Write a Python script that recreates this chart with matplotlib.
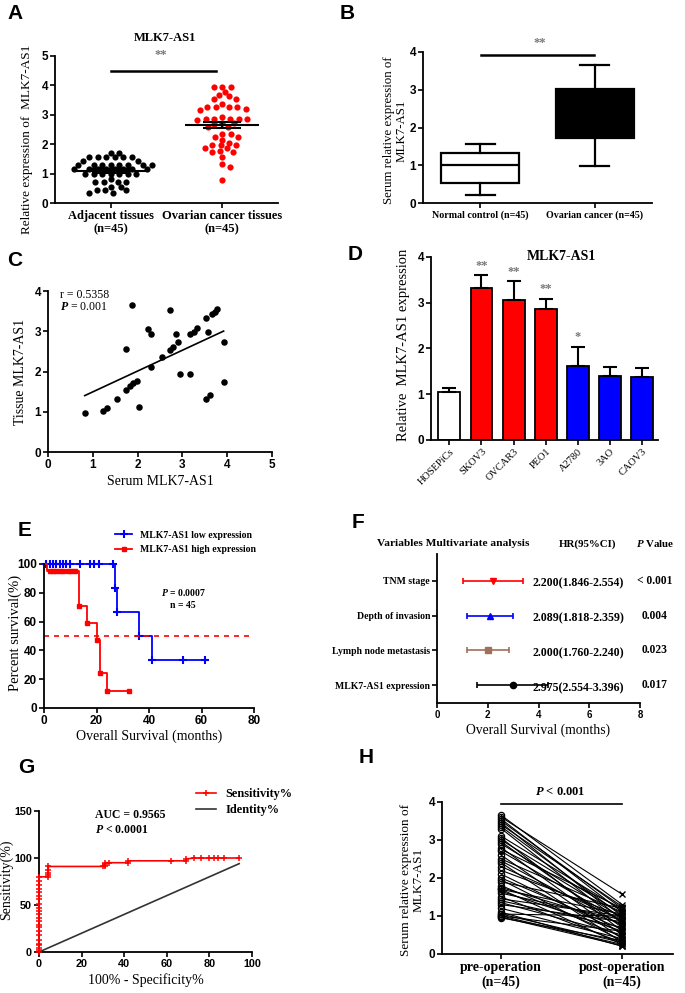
import matplotlib
matplotlib.use("Agg")
import matplotlib.pyplot as plt
from matplotlib.lines import Line2D
import numpy as np

SERIF = "Liberation Serif"
SANS = "Liberation Sans"
plt.rcParams["font.family"] = [SERIF, "DejaVu Serif"]
plt.rcParams["font.weight"] = "bold"
plt.rcParams["mathtext.fontset"] = "custom"
plt.rcParams["mathtext.rm"] = SERIF + ":bold"
plt.rcParams["mathtext.it"] = SERIF + ":italic:bold"
plt.rcParams["mathtext.bf"] = SERIF + ":bold"

# ---------------- data ----------------
# A: tissue expression
tissue_groups = ["Adjacent tissues\n(n=45)", "Ovarian cancer tissues\n(n=45)"]
adjacent_expr = [1.70, 1.70, 1.55, 1.55, 1.55, 1.55, 1.55, 1.55,
                 1.44, 1.44,
                 1.30, 1.30, 1.30, 1.30, 1.30, 1.30, 1.30, 1.30,
                 1.15, 1.15, 1.15, 1.15, 1.15, 1.15, 1.15, 1.15,
                 1.00, 1.00, 1.00, 1.00, 1.00, 1.00, 1.00,
                 0.82, 0.72, 0.72, 0.72, 0.72, 0.56, 0.56, 0.43, 0.43, 0.43, 0.34, 0.34]
ovarian_expr = [3.95, 3.95, 3.95, 3.79, 3.67, 3.53, 3.53, 3.64, 3.36, 3.16,
                3.25, 3.25, 3.20, 3.25, 3.25, 2.93, 2.87, 2.87, 2.87, 2.87,
                2.87, 2.84, 2.72, 2.72, 2.70, 2.60, 2.58, 2.34, 2.26, 2.26,
                2.34, 2.15, 2.04, 1.98, 1.96, 1.87, 1.77, 1.75, 1.75, 1.87,
                1.96, 1.55, 1.32, 1.24, 0.79]

# B: serum box plot summary
serum_groups = ["Normal control (n=45)", "Ovarian cancer (n=45)"]
serum_whislo = [0.20, 0.97]
serum_q1 = [0.52, 1.73]
serum_med = [1.00, 2.40]
serum_q3 = [1.33, 3.03]
serum_whishi = [1.57, 3.65]

# C: correlation
serum_level = [0.82, 1.23, 1.31, 1.53, 1.75, 1.87, 1.75, 1.83, 1.90, 1.98, 2.03,
               2.24, 2.31, 2.31, 2.54, 2.72, 2.86, 2.72, 2.80, 2.91, 2.95, 3.16,
               3.17, 3.25, 3.32, 3.52, 3.58, 3.66, 3.73, 3.77, 3.52, 3.62, 3.92, 3.92]
tissue_level = [0.97, 1.02, 1.09, 1.32, 2.55, 3.65, 1.55, 1.63, 1.71, 1.77, 1.13,
                3.06, 2.93, 2.12, 2.35, 3.52, 2.94, 2.54, 2.62, 2.73, 1.93, 1.93,
                2.93, 2.99, 3.07, 3.32, 2.99, 3.42, 3.49, 3.55, 1.32, 1.42, 2.73, 1.73]

# D: cell lines
cell_lines = ["HOSEPiCs", "SKOV3", "OVCAR3", "PEO1", "A2780", "3AO", "CAOV3"]
cell_expr = [1.05, 3.32, 3.07, 2.86, 1.61, 1.40, 1.37]
cell_err = [0.08, 0.28, 0.40, 0.22, 0.43, 0.20, 0.21]
cell_stars = ["", "**", "**", "**", "*", "", ""]
cell_colors = ["white", "red", "red", "red", "blue", "blue", "blue"]

# E: Kaplan-Meier
low_time = [0, 27.0, 27.9, 36.3, 41.2, 61.3]
low_surv = [100, 83, 67, 50, 33, 33]
low_mark_time = [0.9, 2.2, 3.4, 4.7, 6.0, 7.3, 8.5, 9.8, 13.6, 17.4, 19.0, 20.9,
                 26.3, 27.0, 27.9, 36.3, 41.2, 53.1, 61.3]
low_mark_surv = [100, 100, 100, 100, 100, 100, 100, 100, 100, 100, 100, 100,
                 100, 83, 67, 50, 33, 33, 33]
high_time = [0, 1.0, 13.2, 16.4, 20.0, 21.2, 24.0, 32.4]
high_surv = [100, 95, 71, 59, 47, 24, 12, 12]
high_mark_time = [2.2, 3.4, 4.7, 6.0, 7.3, 9.2, 10.4, 11.7, 13.2, 16.4, 20.0, 21.2, 24.0, 32.4]
high_mark_surv = [95, 95, 95, 95, 95, 95, 95, 95, 71, 59, 47, 24, 12, 12]

# F: multivariate forest
variables = ["TNM stage", "Depth of invasion", "Lymph node metastasis", "MLK7-AS1 expression"]
hr_point = [2.20, 2.07, 2.00, 2.99]
hr_low = [1.01, 1.18, 1.18, 1.57]
hr_high = [3.38, 2.99, 2.82, 4.37]
hr_text = ["2.200(1.846-2.554)", "2.089(1.818-2.359)", "2.000(1.760-2.240)", "2.975(2.554-3.396)"]
p_text = ["< 0.001", "0.004", "0.023", "0.017"]

# G: ROC
roc_fpr = [0, 0, 0, 0, 0, 0, 0, 0, 0, 0, 0, 0, 0, 0, 0, 0, 0, 0, 0, 0, 0, 0, 0,
           4.4, 4.4, 4.4, 4.4, 4.4, 30, 31, 31, 31, 33, 42, 42, 62, 69, 69,
           73, 76, 80, 82, 84, 87, 94]
roc_tpr = [0, 2, 4, 7, 9, 13, 18, 22, 27, 29, 33, 36, 40, 44, 47, 51, 56, 60, 64, 67, 71, 76, 80,
           80, 82, 84, 87, 91, 91, 91, 93, 95, 95, 95, 97, 97, 97, 99,
           100, 100, 100, 100, 100, 100, 100]
identity = [0, 94]

# H: pre / post operation
pre_op = [3.65, 3.60, 3.55, 3.50, 3.45, 3.40, 3.35, 3.30, 3.10, 3.05,
          3.00, 2.95, 2.90, 2.80, 2.75, 2.70, 2.60, 2.50, 2.45, 2.40,
          2.30, 2.20, 2.10, 2.00, 1.95, 1.90, 1.80, 1.75, 1.70, 1.70,
          1.65, 1.60, 1.50, 1.45, 1.40, 1.35, 1.30, 1.20, 1.10, 1.05,
          1.05, 1.00, 1.00, 0.97, 0.95]
post_op = [1.30, 1.57, 1.10, 1.20, 0.90, 1.25, 1.00, 0.80, 1.15, 0.60,
           1.05, 0.70, 0.95, 0.50, 1.20, 0.85, 0.40, 1.10, 0.75, 0.30,
           0.90, 1.00, 0.55, 0.65, 0.35, 1.20, 0.45, 0.80, 1.05, 0.25,
           0.60, 0.90, 0.30, 1.00, 0.70, 0.50, 0.85, 0.40, 0.20, 0.30,
           1.00, 0.25, 0.60, 0.22, 0.35]
op_groups = ["pre-operation\n(n=45)", "post-operation\n(n=45)"]

# ---------------- helpers ----------------
W, H = 685, 993
fig = plt.figure(figsize=(W / 100, H / 100), dpi=100)


def add_axes(x0, y_top, x1, y_bot):
    return fig.add_axes([x0 / W, 1 - y_bot / H, (x1 - x0) / W, (y_bot - y_top) / H])


def style(ax, size=8.5):
    for s in ("top", "right"):
        ax.spines[s].set_visible(False)
    for s in ("left", "bottom"):
        ax.spines[s].set_linewidth(1.3)
    ax.tick_params(width=1.2, length=3.5, pad=1.5)
    for t in ax.get_xticklabels() + ax.get_yticklabels():
        t.set_family(SANS)
        t.set_size(size)
        t.set_weight("bold")


def letter(x, y, s):
    fig.text(x / W, 1 - y / H, s, family=SANS, weight="bold", size=15, va="top", ha="left")


def swarm_x(ax, xc, vals, gx=8.4, gy=5.0):
    # row-like dot layout: points collide inside an ellipse gx wide, gy tall (pixels)
    vals = np.asarray(vals)
    disp = ax.transData.transform(np.column_stack([np.full(len(vals), xc), vals]))
    ys = disp[:, 1]
    steps = np.arange(0.5, 80, 0.5)
    cands = np.concatenate([[0], np.ravel(np.column_stack([steps, -steps]))])
    placed = []
    offs = np.zeros(len(vals))
    for k in np.argsort(-vals):
        for c in cands:
            if all(((c - px) / gx) ** 2 + ((ys[k] - py) / gy) ** 2 >= 1 for px, py in placed):
                break
        placed.append((c, ys[k]))
        offs[k] = c
    return ax.transData.inverted().transform(np.column_stack([disp[:, 0] + offs, ys]))[:, 0]


# ---------------- A ----------------
ax = add_axes(55, 56, 278, 203)
ax.set_xlim(-0.5, 1.5)
ax.set_ylim(0, 5)
for i, (vals, col) in enumerate([(adjacent_expr, "black"), (ovarian_expr, "red")]):
    xs = swarm_x(ax, i, vals)
    ax.scatter(xs, vals, s=20, color=col, linewidths=0, zorder=3, clip_on=False)
    m = np.mean(vals)
    sem = np.std(vals, ddof=1) / np.sqrt(len(vals))
    ax.hlines(m, i - 0.33, i + 0.33, color="black", lw=1.5, zorder=4)
    ax.hlines([m - sem, m + sem], i - 0.17, i + 0.17, color="black", lw=1.5, zorder=4)
    ax.vlines(i, m - sem, m + sem, color="black", lw=1.5, zorder=4)
ax.set_yticks(range(6))
ax.set_xticks([0, 1])
style(ax)
ax.set_xticklabels(tissue_groups, family=SERIF, size=9, weight="bold")
ax.plot([0, 0.94], [4.5, 4.5], color="black", lw=1.8, clip_on=False)
ax.text(0.45, 5.03, "**", ha="center", va="center", color="#777777", size=9, clip_on=False)
ax.text(0.49, 5.61, "MLK7-AS1", ha="center", va="center", size=9, clip_on=False)
ax.set_ylabel("Relative expression of  MLK7-AS1", size=9.5)
ax.yaxis.set_label_coords(-0.099, 0.43)

# ---------------- B ----------------
ax = add_axes(423, 52, 652, 203)
ax.set_xlim(-0.5, 1.5)
ax.set_ylim(0, 4)
stats = [dict(med=serum_med[i], q1=serum_q1[i], q3=serum_q3[i], whislo=serum_whislo[i],
              whishi=serum_whishi[i], label=serum_groups[i]) for i in range(2)]
bp = ax.bxp(stats, positions=[0, 1], widths=0.68, capwidths=0.25, patch_artist=True,
            showfliers=False,
            boxprops=dict(lw=1.6, edgecolor="black"), whiskerprops=dict(lw=1.6),
            capprops=dict(lw=1.6), medianprops=dict(color="black", lw=1.6))
for patch, fc in zip(bp["boxes"], ["white", "black"]):
    patch.set_facecolor(fc)
ax.set_yticks(range(5))
ax.set_xticks([0, 1])
style(ax)
ax.set_xticklabels(serum_groups, family=SERIF, size=7.2, weight="bold")
ax.plot([0.01, 0.99], [3.92, 3.92], color="black", lw=1.8, clip_on=False)
ax.text(0.52, 4.25, "**", ha="center", va="center", color="#777777", size=9, clip_on=False)
ax.set_ylabel("Serum relative expression of\nMLK7-AS1", size=9.3, linespacing=1.05)
ax.yaxis.set_label_coords(-0.066, 0.48)

# ---------------- C ----------------
ax = add_axes(48, 291, 272, 452)
ax.set_xlim(0, 5)
ax.set_ylim(0, 4)
ax.scatter(serum_level, tissue_level, s=22, color="black", linewidths=0, zorder=3)
k, b = np.polyfit(serum_level, tissue_level, 1)
xr = np.array([min(serum_level), max(serum_level)])
ax.plot(xr, k * xr + b, color="black", lw=1.2)
ax.set_xticks(range(6))
ax.set_yticks(range(5))
style(ax)
ax.text(0.26, 3.9, "r = 0.5358", size=8.5, weight="normal", va="center")
ax.text(0.26, 3.6, "$P$ = 0.001", size=8.5, weight="normal", va="center")
ax.set_ylabel("Tissue MLK7-AS1", size=10)
ax.yaxis.set_label_coords(-0.094, 0.5)
ax.set_xlabel("Serum MLK7-AS1", size=10)
ax.xaxis.set_label_coords(0.5, -0.143)

# ---------------- D ----------------
ax = add_axes(431, 257, 658, 440)
xpos = np.arange(len(cell_lines))
ax.bar(xpos, cell_expr, width=0.68, color=cell_colors, edgecolor="black", lw=1.3,
       yerr=[np.zeros(len(cell_err)), cell_err], capsize=5.2,
       error_kw=dict(lw=1.5, capthick=1.5, ecolor="black"), zorder=2)
ax.set_xlim(-0.57, 6.49)
ax.set_ylim(0, 4)
for xp, v, e, st in zip(xpos, cell_expr, cell_err, cell_stars):
    if st:
        ax.text(xp, v + e + 0.08, st, ha="center", va="bottom", color="#777777", size=9)
ax.set_yticks(range(5))
ax.set_xticks(xpos)
style(ax)
ax.set_xticklabels(cell_lines, family=SERIF, size=7.5, weight="normal", rotation=45,
                   ha="right", rotation_mode="anchor")
ax.text(3.5, 4.0, "MLK7-AS1", ha="center", va="center", size=10, clip_on=False)
ax.set_ylabel("Relative  MLK7-AS1 expression", size=10.5)
ax.yaxis.set_label_coords(-0.093, 0.52)

# ---------------- E ----------------
ax = add_axes(44, 564, 254, 708)
ax.set_xlim(0, 80)
ax.set_ylim(0, 100)
ax.plot(low_time, low_surv, drawstyle="steps-post", color="blue", lw=1.3, clip_on=False)
ax.plot(low_mark_time, low_mark_surv, "+", color="blue", ms=6, mew=1.5, clip_on=False)
ax.plot(high_time, high_surv, drawstyle="steps-post", color="red", lw=1.3, clip_on=False)
ax.plot(high_mark_time, high_mark_surv, "s", color="red", ms=3.2, clip_on=False)
ax.axhline(50, color="red", ls=(0, (3, 3)), lw=1.2)
ax.set_xticks(range(0, 81, 20))
ax.set_yticks(range(0, 101, 20))
style(ax)
ax.text(53, 80, "$P$ = 0.0007", ha="center", va="center", size=7)
ax.text(53, 71, "n = 45", ha="center", va="center", size=7)
ax.set_ylabel("Percent survival(%)", size=10.5)
ax.yaxis.set_label_coords(-0.105, 0.52)
ax.set_xlabel("Overall Survival (months)", size=10)
ax.xaxis.set_label_coords(0.5, -0.146)
handles = [Line2D([], [], color="blue", marker="+", ms=6, mew=1.5, lw=1.3),
           Line2D([], [], color="red", marker="s", ms=3.2, lw=1.3)]
fig.legend(handles, ["MLK7-AS1 low expression", "MLK7-AS1 high expression"],
           loc="upper left", bbox_to_anchor=(110 / W, 1 - 526 / H), frameon=False,
           fontsize=7, handlelength=1.8, labelspacing=0.55, borderpad=0, handletextpad=0.8)

# ---------------- F ----------------
ax = add_axes(437, 554, 640, 703)
ax.set_xlim(0, 8)
ax.set_ylim(0.49, 4.77)
rows = [4, 3, 2, 1]
for r, hp, lo, hi, mk, col in zip(rows, hr_point, hr_low, hr_high,
                                  ["v", "^", "s", "o"], ["red", "blue", "#a0705a", "black"]):
    ax.errorbar(hp, r, xerr=[[hp - lo], [hi - hp]], fmt=mk, color=col, ms=4.5,
                lw=1.2, capsize=2.5, capthick=1.2, clip_on=False)
ax.set_xticks(range(0, 9, 2))
ax.set_yticks(rows)
style(ax, size=7)
ax.set_yticklabels(variables, family=SERIF, size=7, weight="bold")
for r, ht, pt in zip(rows, hr_text, p_text):
    ax.text(3.78, r - 0.08, ht, ha="left", va="center", size=8.6, clip_on=False)
    ax.text(8.58, r, pt, ha="center", va="center", size=8.3, clip_on=False)
ax.text(0.63, 5.06, "Variables Multivariate analysis", ha="center", va="center", size=8.2, clip_on=False)
ax.text(5.94, 5.06, "HR(95%CI)", ha="center", va="center", size=7.8, clip_on=False)
ax.text(8.58, 5.06, "$P$ Value", ha="center", va="center", size=7.8, clip_on=False)
ax.set_xlabel("Overall Survival (months)", size=9.8)
ax.xaxis.set_label_coords(0.5, -0.141)

# ---------------- G ----------------
ax = add_axes(39, 811, 252, 952)
ax.set_xlim(0, 100)
ax.set_ylim(0, 150)
ax.plot(roc_fpr, roc_tpr, color="red", marker="+", ms=5, mew=1.1, lw=1.2, clip_on=False,
        label="Sensitivity%", zorder=3)
ax.plot(identity, identity, color="#333333", lw=1.2, label="Identity%")
ax.set_xticks(range(0, 101, 20))
ax.set_yticks([0, 50, 100, 150])
style(ax, size=7.8)
ax.text(26.3, 145.7, "AUC = 0.9565", size=8.5, va="center")
ax.text(26.3, 129.8, "$P$ < 0.0001", size=8.5, va="center")
ax.set_ylabel("Sensitivity(%)", size=10)
ax.yaxis.set_label_coords(-0.122, 0.51)
ax.set_xlabel("100% - Specificity%", size=10)
ax.xaxis.set_label_coords(0.5, -0.149)
fig.legend(*ax.get_legend_handles_labels(), loc="upper left",
           bbox_to_anchor=(190 / W, 1 - 782 / H), frameon=False, fontsize=8.8,
           handlelength=1.6, labelspacing=0.35, borderpad=0, handletextpad=0.8)

# ---------------- H ----------------
ax = add_axes(442, 802, 673, 954)
ax.set_xlim(-0.49, 1.42)
ax.set_ylim(0, 4)
for a, b2 in zip(pre_op, post_op):
    ax.plot([0, 1], [a, b2], color="black", lw=0.8)
ax.plot(np.zeros(len(pre_op)), pre_op, "o", mfc="none", mec="black", ms=4.5, mew=0.9)
ax.plot(np.ones(len(post_op)), post_op, "x", color="black", ms=4, mew=1)
ax.set_yticks(range(5))
ax.set_xticks([0, 1])
style(ax)
ax.set_xticklabels(op_groups, family=SERIF, size=10, weight="bold")
ax.plot([0, 1], [3.95, 3.95], color="black", lw=1.2, clip_on=False)
ax.text(0.49, 4.26, "$P$ < 0.001", ha="center", va="center", size=9, clip_on=False)
ax.set_ylabel("Serum relative expression of\nMLK7-AS1", size=9.5, linespacing=1.05)
ax.yaxis.set_label_coords(-0.074, 0.49)

# ---------------- panel letters ----------------
letter(7, 4, "A")
letter(340, 4, "B")
letter(7, 251, "C")
letter(348, 245, "D")
letter(18, 521, "E")
letter(352, 513, "F")
letter(18, 758, "G")
letter(359, 748, "H")

fig.savefig("out.png", dpi=100)
